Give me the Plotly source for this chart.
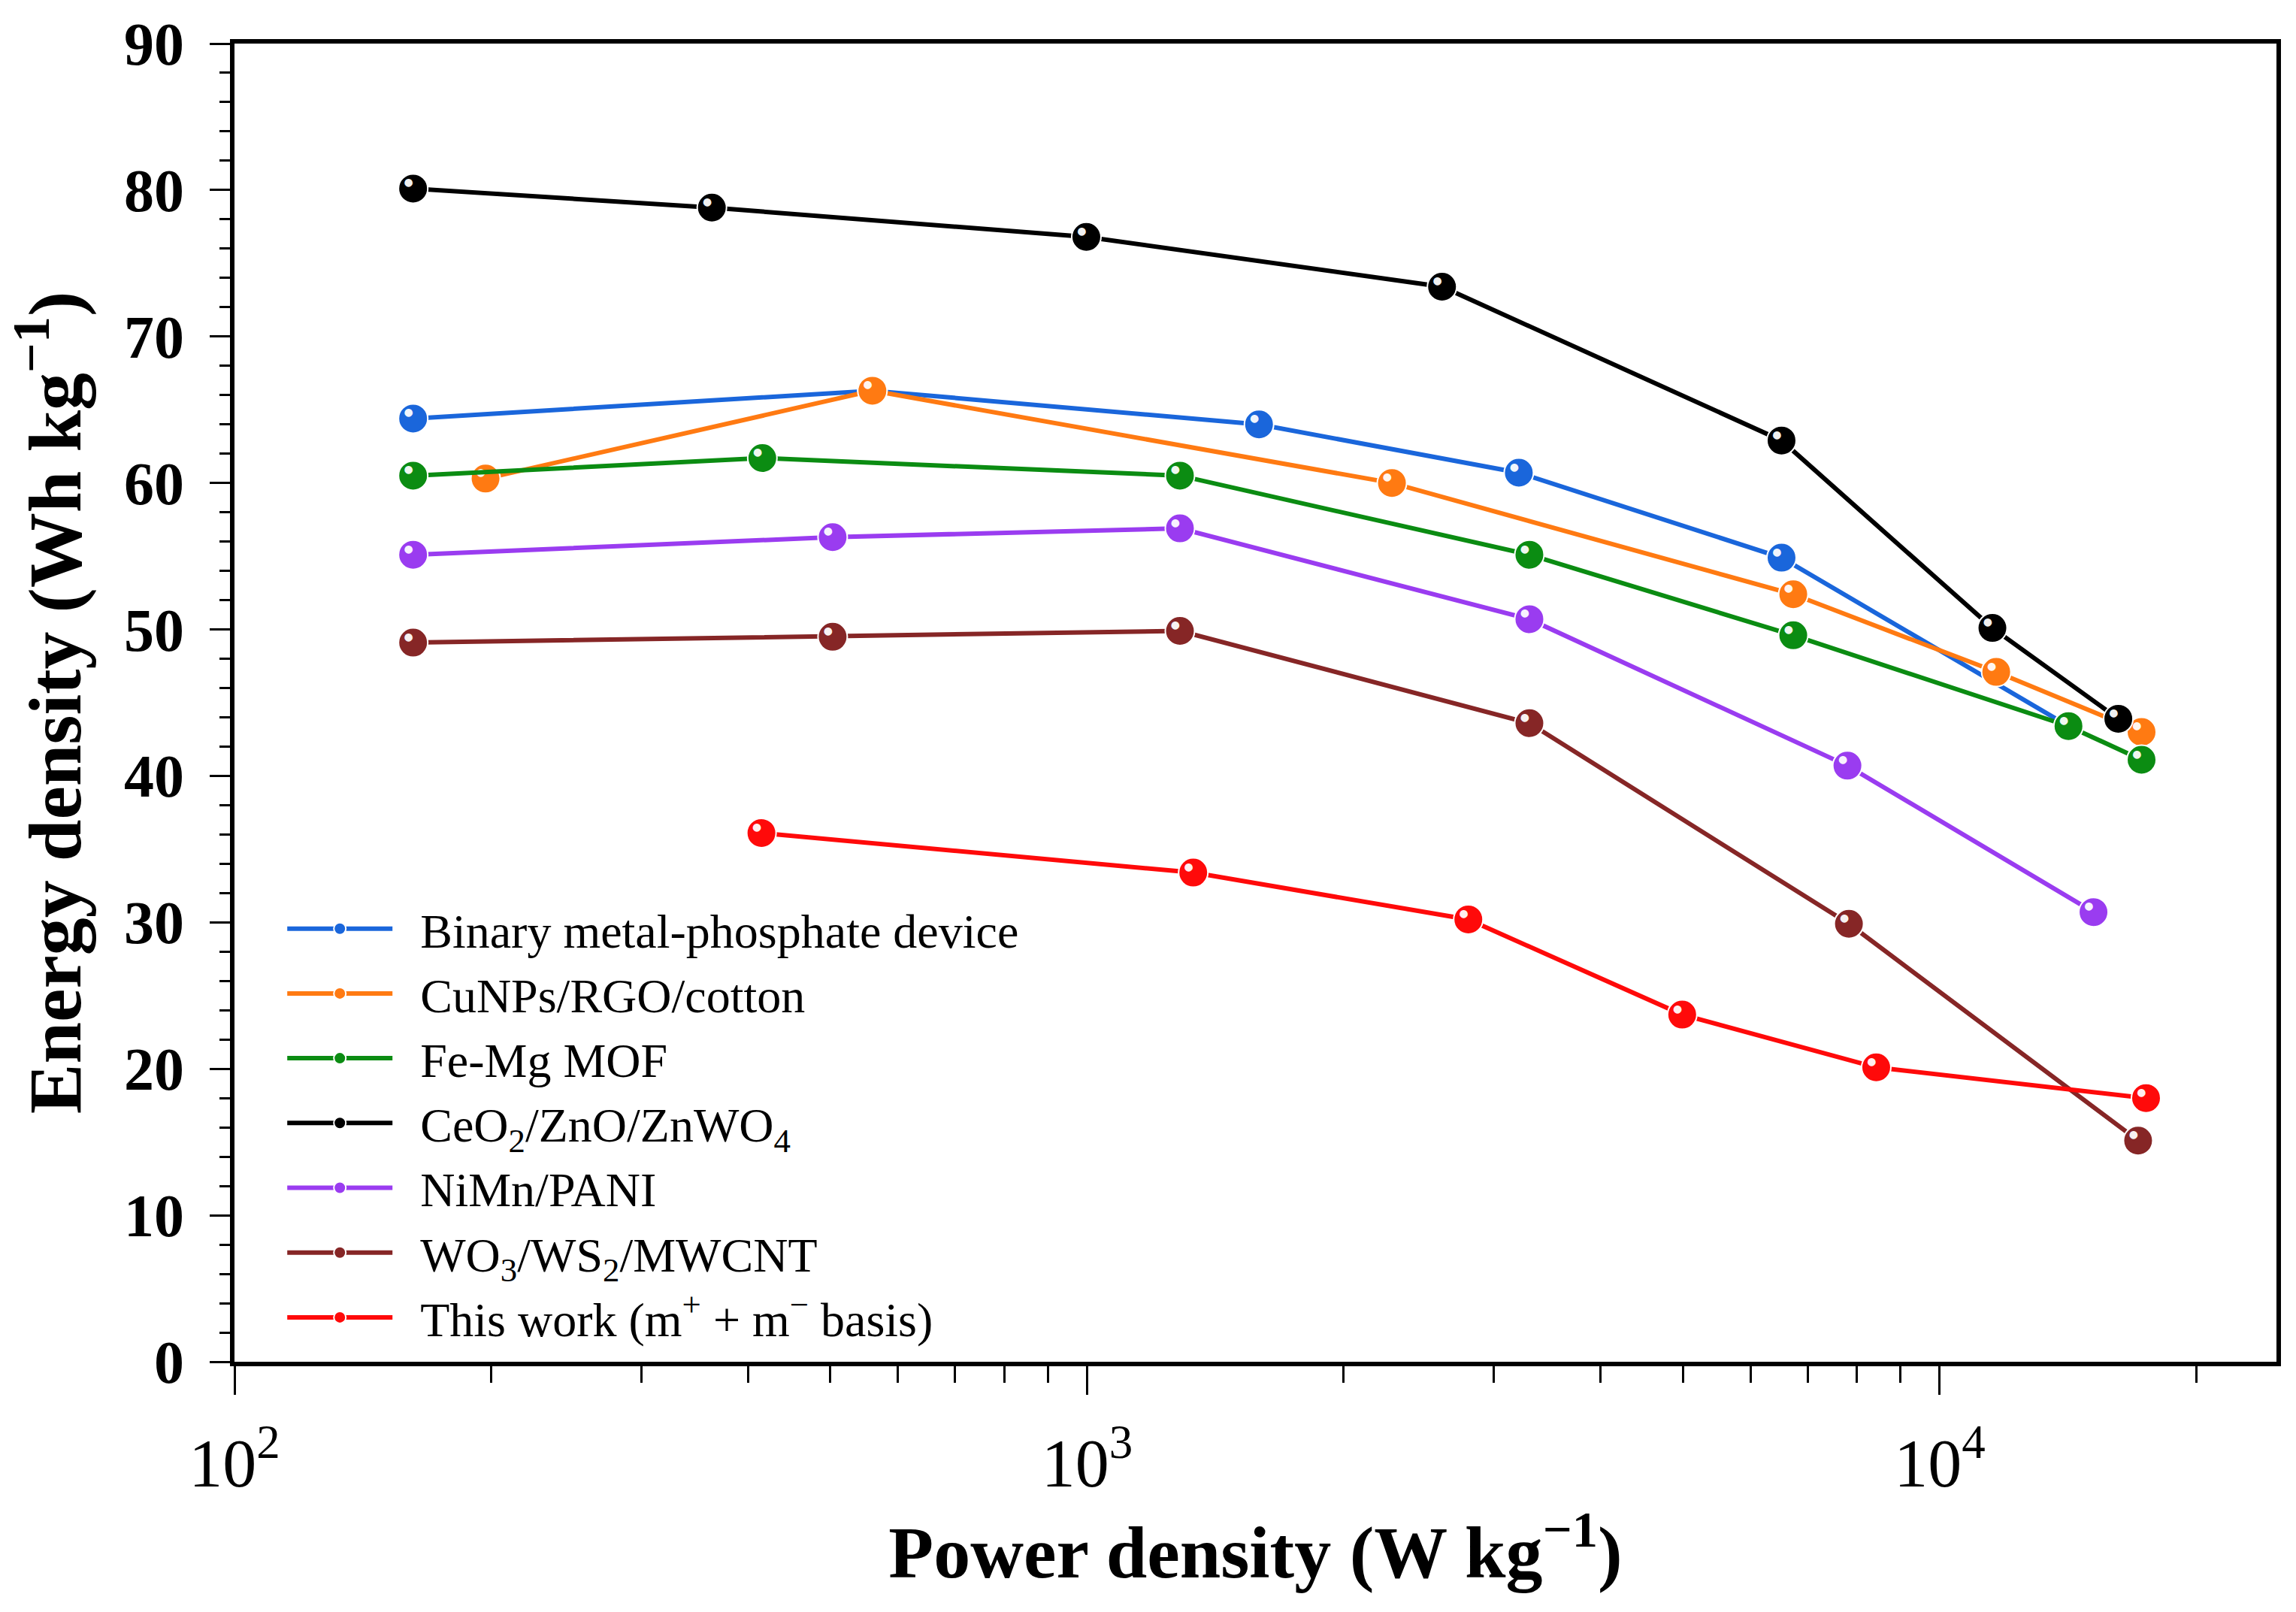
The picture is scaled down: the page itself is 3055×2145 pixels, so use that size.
import plotly.graph_objects as go

# power density (W/kg) and energy density (Wh/kg)
names = [
    'Binary metal-phosphate device',
    'CuNPs/RGO/cotton',
    'Fe-Mg MOF',
    'CeO<sub>2</sub>/ZnO/ZnWO<sub>4</sub>',
    'NiMn/PANI',
    'WO<sub>3</sub>/WS<sub>2</sub>/MWCNT',
    'This work (m<sup>+</sup> + m<sup>\u2212</sup> basis)',
]
colors = ['#1a66db', '#ff7a12', '#0b8c12', '#000000', '#9a3cf0', '#862626', '#ff0a0a']

binary_x = [162, 560, 1591, 3209, 6524, 14160]
binary_y = [64.4, 66.3, 64.0, 60.7, 54.9, 43.4]
cunps_x = [197, 560, 2278, 6734, 11650, 17250]
cunps_y = [60.3, 66.3, 60.0, 52.4, 47.1, 43.0]
femg_x = [162, 416, 1285, 3302, 6734, 14160, 17250]
femg_y = [60.5, 61.7, 60.5, 55.1, 49.6, 43.4, 41.1]
ceo2_x = [162, 363, 998, 2608, 6524, 11530, 16200]
ceo2_y = [80.1, 78.8, 76.8, 73.4, 62.9, 50.1, 43.9]
nimn_x = [162, 503, 1285, 3302, 7795, 15150]
nimn_y = [55.1, 56.3, 56.9, 50.7, 40.7, 30.7]
wo3_x = [162, 503, 1285, 3302, 7826, 17090]
wo3_y = [49.1, 49.5, 49.9, 43.6, 29.9, 15.1]
this_x = [415, 1332, 2800, 4989, 8425, 17460]
this_y = [36.1, 33.4, 30.2, 23.7, 20.1, 18.0]

series = [
    (binary_x, binary_y),
    (cunps_x, cunps_y),
    (femg_x, femg_y),
    (ceo2_x, ceo2_y),
    (nimn_x, nimn_y),
    (wo3_x, wo3_y),
    (this_x, this_y),
]

x_ticks = [100, 1000, 10000]
x_tick_text = ['10<sup>2</sup>', '10<sup>3</sup>', '10<sup>4</sup>']
y_ticks = [0, 10, 20, 30, 40, 50, 60, 70, 80, 90]

serif = 'Liberation Serif'

fig = go.Figure()
for (xs, ys), name, color in zip(series, names, colors):
    fig.add_trace(go.Scatter(
        x=xs, y=ys, name='\u2002' + name, mode='lines+markers',
        line=dict(color=color, width=6),
        marker=dict(color=color, size=39, line=dict(color='white', width=2)),
    ))
    # small glossy highlight on each ball
    fig.add_trace(go.Scatter(
        x=xs, y=ys, mode='text', text=['\u25cf'] * len(xs),
        textposition='top left', showlegend=False, hoverinfo='skip',
        textfont=dict(family='DejaVu Sans', size=14, color='rgba(255,255,255,0.95)'),
    ))

fig.update_layout(
    width=3055, height=2145,
    margin=dict(l=312, r=26, t=58, b=333),
    plot_bgcolor='white', paper_bgcolor='white',
    font=dict(family=serif, color='black'),
    legend=dict(
        x=0.024, y=0.356, xanchor='left', yanchor='top',
        bgcolor='rgba(0,0,0,0)', borderwidth=0,
        font=dict(family=serif, size=64, color='black'),
        itemwidth=140, tracegroupgap=0,
    ),
)

fig.update_xaxes(
    type='log', range=[2, 4.395],
    tickmode='array', tickvals=x_ticks, ticktext=x_tick_text,
    tickfont=dict(family=serif, size=90),
    ticks='outside', ticklen=38, tickwidth=3, tickcolor='black',
    ticklabelstandoff=14,
    minor=dict(ticks='outside', ticklen=22, tickwidth=3, tickcolor='black', dtick='D1'),
    showline=True, linewidth=6, linecolor='black', mirror=True,
    showgrid=False, zeroline=False,
    title=dict(text='<b>Power density (W kg<sup>\u22121</sup>)</b>',
               font=dict(family=serif, size=98), standoff=36),
)
fig.update_yaxes(
    range=[0, 90],
    tickmode='array', tickvals=y_ticks,
    tickfont=dict(family=serif, size=80, weight='bold'),
    ticks='outside', ticklen=27, tickwidth=3, tickcolor='black',
    ticklabelstandoff=18,
    minor=dict(ticks='outside', ticklen=14, tickwidth=3, tickcolor='black', dtick=2),
    showline=True, linewidth=6, linecolor='black', mirror=True,
    showgrid=False, zeroline=False,
    title=dict(text='<b>Energy density (Wh kg<sup>\u22121</sup>)</b>',
               font=dict(family=serif, size=100), standoff=26),
)

fig.write_html('out.html', config={'displayModeBar': False},
               post_script="document.body.style.margin='0';")
